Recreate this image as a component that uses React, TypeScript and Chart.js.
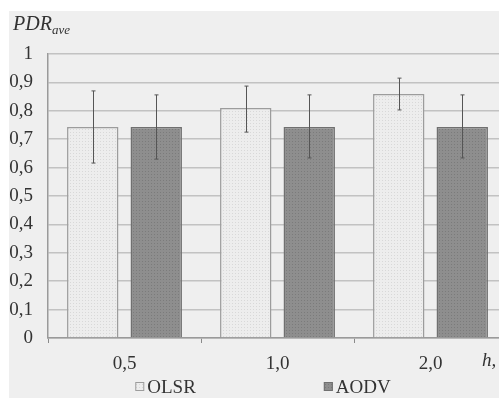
import React, { useEffect, useRef } from "react";
import { Chart, registerables } from "chart.js";

Chart.register(...registerables);

const categories = ["0,5", "1,0", "2,0"];
const seriesNames = ["OLSR", "AODV"];
const olsrValues = [0.743, 0.81, 0.859];
const aodvValues = [0.743, 0.743, 0.743];
const olsrErrLow = [0.616, 0.725, 0.803];
const olsrErrHigh = [0.87, 0.887, 0.915];
const aodvErrLow = [0.63, 0.634, 0.634];
const aodvErrHigh = [0.856, 0.856, 0.856];
const yMin = 0;
const yMax = 1;
const yStep = 0.1;
const yTitle = "PDR";
const yTitleSub = "ave";
const xTitle = "h,";

const SERIF = "'Liberation Serif', 'DejaVu Serif', serif";

function makePattern(base: string, dot: string) {
  const c = document.createElement("canvas");
  c.width = 3;
  c.height = 3;
  const g = c.getContext("2d")!;
  g.fillStyle = base;
  g.fillRect(0, 0, 3, 3);
  g.fillStyle = dot;
  g.fillRect(1, 1, 1, 1);
  const ctx = document.createElement("canvas").getContext("2d")!;
  return ctx.createPattern(c, "repeat")!;
}

export default function App() {
  const ref = useRef<HTMLCanvasElement | null>(null);

  useEffect(() => {
    document.body.style.margin = "0";
    const canvas = ref.current!;
    const olsrFill = makePattern("#ededed", "#d8d8d8");
    const aodvFill = makePattern("#8e8e8e", "#7b7b7b");
    const lows = [olsrErrLow, aodvErrLow];
    const highs = [olsrErrHigh, aodvErrHigh];

    const errorBars = {
      id: "errorBars",
      afterDatasetsDraw(chart: any) {
        const ctx = chart.ctx;
        const y = chart.scales.y;
        ctx.save();
        ctx.strokeStyle = "#555";
        ctx.lineWidth = 1;
        chart.data.datasets.forEach((_: any, i: number) => {
          const meta = chart.getDatasetMeta(i);
          meta.data.forEach((bar: any, j: number) => {
            const x = Math.round(bar.x) + 0.5;
            const yh = y.getPixelForValue(highs[i][j]);
            const yl = y.getPixelForValue(lows[i][j]);
            ctx.beginPath();
            ctx.moveTo(x, yh);
            ctx.lineTo(x, yl);
            ctx.moveTo(x - 2, yh);
            ctx.lineTo(x + 2, yh);
            ctx.moveTo(x - 2, yl);
            ctx.lineTo(x + 2, yl);
            ctx.stroke();
          });
        });
        ctx.restore();
      },
    };

    const extras = {
      id: "extras",
      afterDraw(chart: any) {
        const ctx = chart.ctx;
        const area = chart.chartArea;
        ctx.save();
        ctx.fillStyle = "#333";
        ctx.textBaseline = "alphabetic";
        ctx.textAlign = "left";
        // Y title
        ctx.font = `italic 20px ${SERIF}`;
        ctx.fillText(yTitle, 4, 19);
        const w = ctx.measureText(yTitle).width;
        ctx.font = `italic 13px ${SERIF}`;
        ctx.fillText(yTitleSub, 4 + w, 23);
        // X title
        ctx.font = `italic 19px ${SERIF}`;
        ctx.fillText(xTitle, area.right - 25, 355);
        // Legend
        ctx.font = `19px ${SERIF}`;
        const box = 9;
        const gapText = 3;
        const spacing = 128;
        const widths = seriesNames.map((n) => box + gapText + ctx.measureText(n).width);
        const total = widths.reduce((a, b) => a + b, 0) + spacing * (widths.length - 1);
        let x = chart.width / 2 + 4 - total / 2;
        const cy = 376;
        chart.data.datasets.forEach((ds: any, i: number) => {
          ctx.fillStyle = ds.backgroundColor;
          ctx.fillRect(x, cy - box / 2 - 0.5, box, box);
          ctx.strokeStyle = ds.borderColor;
          ctx.lineWidth = 1;
          ctx.strokeRect(x + 0.5, cy - box / 2, box - 1, box - 1);
          ctx.fillStyle = "#333";
          ctx.textBaseline = "middle";
          ctx.fillText(seriesNames[i], x + box + gapText, cy + 1);
          x += widths[i] + spacing;
        });
        ctx.restore();
      },
    };

    const chart = new Chart(canvas, {
      type: "bar",
      data: {
        labels: categories,
        datasets: [
          {
            label: seriesNames[0],
            data: olsrValues,
            backgroundColor: olsrFill as any,
            borderColor: "#9c9c9c",
            borderWidth: 1.5,
            categoryPercentage: 0.83,
            barPercentage: 0.81,
          },
          {
            label: seriesNames[1],
            data: aodvValues,
            backgroundColor: aodvFill as any,
            borderColor: "#707070",
            borderWidth: 1.5,
            categoryPercentage: 0.83,
            barPercentage: 0.81,
          },
        ],
      },
      options: {
        responsive: false,
        animation: false,
        devicePixelRatio: 1,
        layout: { padding: { top: 43, right: 2, bottom: 24, left: 0 } },
        plugins: {
          legend: { display: false },
          tooltip: { enabled: false },
        },
        scales: {
          x: {
            grid: {
              display: true,
              drawOnChartArea: false,
              offset: true,
              tickLength: 5,
              color: "#8a8a8a",
              lineWidth: 1,
            },
            border: { color: "#9a9a9a", width: 1.5 },
            ticks: {
              color: "#333",
              font: { family: SERIF, size: 19 },
              padding: 10,
            },
            afterFit(scale: any) {
              scale.height = 36;
            },
          },
          y: {
            min: yMin,
            max: yMax,
            ticks: {
              stepSize: yStep,
              color: "#333",
              font: { family: SERIF, size: 19 },
              padding: 15,
              callback: (v: any) => {
                const n = Number(v);
                if (Math.abs(n) < 1e-9) return "0";
                if (Math.abs(n - 1) < 1e-9) return "1";
                return n.toFixed(1).replace(".", ",");
              },
            },
            grid: {
              color: "#c2c2c2",
              lineWidth: 1.5,
              drawTicks: false,
            },
            border: { color: "#9a9a9a", width: 1.5 },
            afterFit(scale: any) {
              scale.width = 39;
            },
          },
        },
      },
      plugins: [errorBars, extras],
    });
    return () => chart.destroy();
  }, []);

  return (
    <div style={{ paddingLeft: 9, paddingTop: 11, width: 490, height: 387, overflow: "hidden" }}>
      <div
        style={{
          width: 490,
          height: 387,
          overflow: "hidden",
          background: "#efefef",
        }}
      >
        <canvas ref={ref} width={500} height={387} style={{ display: "block", width: 500, height: 387 }} />
      </div>
    </div>
  );
}
